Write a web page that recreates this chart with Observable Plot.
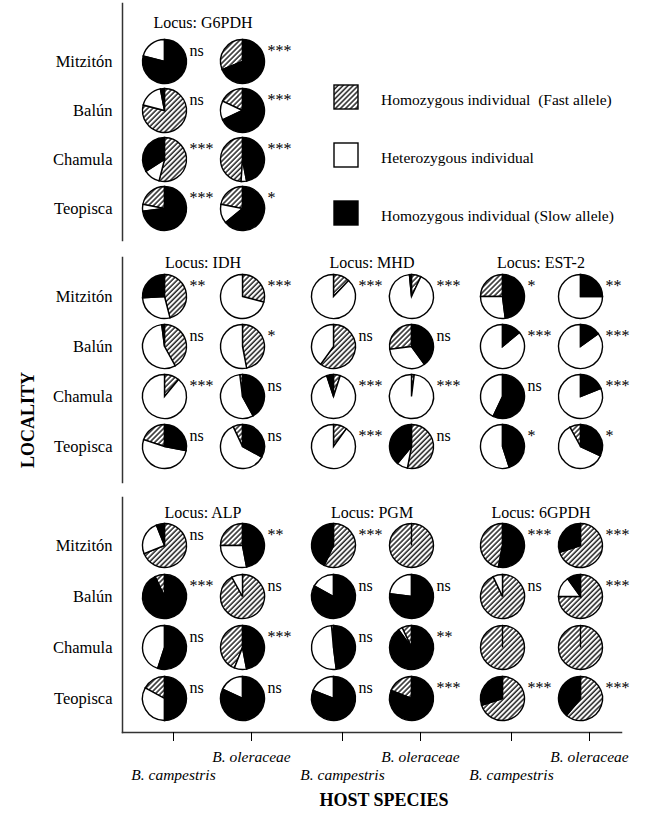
<!DOCTYPE html>
<html><head><meta charset="utf-8">
<script src="https://cdn.jsdelivr.net/npm/d3@7"></script>
<script src="https://cdn.jsdelivr.net/npm/@observablehq/plot@0.6"></script>
<style>
body{margin:0;background:#fff;}
#chart{position:relative;width:649px;height:815px;font-family:"Liberation Serif","Times New Roman",serif;color:#000;background:#fff;overflow:hidden;}
.panel{position:absolute;left:0;}
.leg{position:absolute;left:333px;display:flex;align-items:center;white-space:pre;font-size:15.5px;}
.leg svg{margin-right:22px;}
.ttl{position:absolute;font-weight:bold;font-size:18px;white-space:nowrap;}
</style></head><body>
<svg width="0" height="0" style="position:absolute"><defs>
<pattern id="hatch" patternUnits="userSpaceOnUse" width="3.6" height="3.6" patternTransform="rotate(45)">
<rect width="3.6" height="3.6" fill="white"/><line x1="1" y1="0" x2="1" y2="3.6" stroke="black" stroke-width="1.3"/>
</pattern></defs></svg>
<div id="chart"></div>
<script>
// ---------------- data ----------------
const localities = ["Mitzitón", "Balún", "Chamula", "Teopisca"];
const hosts = ["B. campestris", "B. oleraceae"];
const panelLoci = [["G6PDH"], ["IDH", "MHD", "EST-2"], ["ALP", "PGM", "6GPDH"]];
const legendLabels = ["Homozygous individual  (Fast allele)", "Heterozygous individual", "Homozygous individual (Slow allele)"];
// each pie: [fast %, heterozygous %, slow %]; order per locus:
// Mitzitón Bc, Mitzitón Bo, Balún Bc, Balún Bo, Chamula Bc, Chamula Bo, Teopisca Bc, Teopisca Bo
// slice order clockwise from 12 o'clock: F = fast→het→slow, S = slow→het→fast
const G6PDH = [[0,21,79],[31,0,69],[79,18,3],[18,14,68],[54,12,34],[49,4,47],[22,5,73],[22,14,64]];
const G6PDH_order = "SSFSFSSS";
const G6PDH_sig = ["ns","***","ns","***","***","***","***","*"];
const IDH = [[46,28,26],[29,71,0],[42,56,2],[47,53,0],[11,89,0],[2,56,42],[20,52,28],[7,60,33]];
const IDH_order = "FFFFFSSS";
const IDH_sig = ["**","***","ns","*","***","ns","ns","ns"];
const MHD = [[12,88,0],[7,91.5,1.5],[60,40,0],[27,33,40],[5,90,5],[2,98,0],[10,90,0],[53,8,39]];
const MHD_order = "FFFSFFFF";
const MHD_sig = ["***","***","ns","ns","***","***","***","ns"];
const EST2 = [[25,27,48],[0,75,25],[0,86,14],[0,85,15],[0,43,57],[0,81,19],[0,55,45],[8,60,32]];
const EST2_order = "SSSSSSSS";
const EST2_sig = ["*","**","***","***","ns","***","*","*"];
const ALP = [[69,25,6],[25,28,47],[7,0,93],[92,8,0],[0,45,55],[44,9,47],[17,33,50],[0,18,82]];
const ALP_order = "FSSFSSSS";
const ALP_sig = ["ns","**","***","ns","ns","***","ns","ns"];
const PGM = [[57,0,43],[100,0,0],[0,17,83],[0,23,77],[1.5,50.5,48],[7,3,90],[0,19,81],[19,0,81]];
const PGM_order = "FFSSSSSS";
const PGM_sig = ["***","","ns","ns","ns","**","ns","***"];
const GPDH6 = [[47,0,53],[70,0,30],[93,7,0],[75,15,10],[100,0,0],[100,0,0],[70,0,30],[61,0,39]];
const GPDH6_order = "SFFFFFFF";
const GPDH6_sig = ["***","***","ns","***","","","***","***"];

const LOCI = {
  "G6PDH": [G6PDH, G6PDH_order, G6PDH_sig],
  "IDH": [IDH, IDH_order, IDH_sig],
  "MHD": [MHD, MHD_order, MHD_sig],
  "EST-2": [EST2, EST2_order, EST2_sig],
  "ALP": [ALP, ALP_order, ALP_sig],
  "PGM": [PGM, PGM_order, PGM_sig],
  "6GPDH": [GPDH6, GPDH6_order, GPDH6_sig]
};
const FILL = {fast: "url(#hatch)", het: "white", slow: "black"};

// ---------------- helpers ----------------
function wedge(a0, a1) {
  return {draw(ctx, size) {
    const r = Math.sqrt(size / Math.PI);
    ctx.moveTo(0, 0);
    ctx.arc(0, 0, r, a0 - Math.PI / 2, a1 - Math.PI / 2);
    ctx.closePath();
  }};
}
function buildPies(panel) {
  const pies = [], slices = [];
  panel.forEach((locus, slot) => {
    const [vals, order, sig] = LOCI[locus];
    vals.forEach(([f, h, s], i) => {
      const locality = localities[Math.floor(i / 2)], host = hosts[i % 2];
      pies.push({slot, locus, locality, host, sig: sig[i]});
      const seq = order[i] === "F" ? [["fast", f], ["het", h], ["slow", s]] : [["slow", s], ["het", h], ["fast", f]];
      const total = f + h + s;
      let a = 0;
      for (const [cat, v] of seq) {
        if (!(v > 0)) continue;
        const a1 = a + v / total * 2 * Math.PI;
        slices.push({slot, locality, host, cat, sym: wedge(a, a1)});
        a = a1;
      }
    });
  });
  return {pies, slices};
}

// ---------------- layout ----------------
const W = 649;
const panels = [
  {top: 0, height: 245, mt: 3, mb: 5, insetTop: 57, insetBottom: 31, titleDy: 19, axis: false},
  {top: 245, height: 245, mt: 12, mb: 8, insetTop: 38, insetBottom: 36, titleDy: 5, axis: false},
  {top: 490, height: 325, mt: 7, mb: 83, insetTop: 48, insetBottom: 34, titleDy: 15, axis: true}
];

const chart = document.getElementById("chart");
panelLoci.forEach((panel, pi) => {
  const cfg = panels[pi];
  const {pies, slices} = buildPies(panel);
  const marks = [
    Plot.frame({anchor: "left", facet: "super", stroke: "#333", strokeWidth: 1.5}),
    Plot.axisY({tickSize: 0, tickPadding: 10, fontSize: 16.5, label: null}),
    Plot.text(panel.map((locus, slot) => ({locus, slot})), {fx: "slot", text: d => "Locus: " + d.locus, frameAnchor: "top", lineAnchor: "middle", dy: cfg.titleDy, fontSize: 16}),
    ...["fast", "het", "slow"].map(cat => Plot.dot(slices.filter(d => d.cat === cat), {
      fx: "slot", x: "host", y: "locality", r: 22, symbol: d => d.sym,
      fill: FILL[cat], stroke: "black", strokeWidth: 1.4
    })),
    Plot.text(pies.filter(d => d.sig), {fx: "slot", x: "host", y: "locality", text: "sig", dx: 25, dy: -11, textAnchor: "start", fontSize: 16})
  ];
  if (cfg.axis) {
    marks.push(
      Plot.frame({anchor: "bottom", facet: "super", stroke: "#333", strokeWidth: 1.5}),
      Plot.axisX({ticks: [hosts[0]], tickSize: 9, tickPadding: 27, fontSize: 15.5, fontStyle: "italic", dx: 9, label: null}),
      Plot.axisX({ticks: [hosts[1]], tickSize: 9, tickPadding: 9, fontSize: 15.5, fontStyle: "italic", dx: 9, label: null})
    );
  }
  const p = Plot.plot({
    width: W, height: cfg.height,
    marginLeft: 122, marginRight: 5, marginTop: cfg.mt, marginBottom: cfg.mb,
    style: {fontFamily: "'Liberation Serif','Times New Roman',serif", fontSize: "15px", color: "black", background: "white", overflow: "visible"},
    fx: {domain: [0, 1, 2], axis: null, paddingInner: 0.047, paddingOuter: 0.0588, align: 0},
    x: {domain: hosts, type: "point", padding: 0.525, axis: null},
    y: {domain: localities, type: "point", padding: 0, insetTop: cfg.insetTop, insetBottom: cfg.insetBottom, axis: null},
    marks
  });
  p.classList.add("panel");
  p.style.top = cfg.top + "px";
  chart.appendChild(p);
});

// legend (top panel, right side)
const legFills = [FILL.fast, FILL.het, FILL.slow];
const legTops = [84, 142, 200];
legendLabels.forEach((lab, i) => {
  const d = document.createElement("div");
  d.className = "leg";
  d.style.top = legTops[i] + "px";
  d.innerHTML = `<svg width="26" height="26"><rect x="1" y="1" width="24" height="24" fill="${legFills[i]}" stroke="black" stroke-width="1.4"/></svg><span style="padding-top:5px">${lab}</span>`;
  chart.appendChild(d);
});

// axis titles
const yt = document.createElement("div");
yt.className = "ttl"; yt.textContent = "LOCALITY";
yt.style.left = "28px"; yt.style.top = "420px";
yt.style.transform = "translate(-50%,-50%) rotate(-90deg)";
chart.appendChild(yt);
const xt = document.createElement("div");
xt.className = "ttl"; xt.textContent = "HOST SPECIES";
xt.style.left = "384px"; xt.style.top = "800px";
xt.style.transform = "translate(-50%,-50%)";
chart.appendChild(xt);
</script>
</body></html>
